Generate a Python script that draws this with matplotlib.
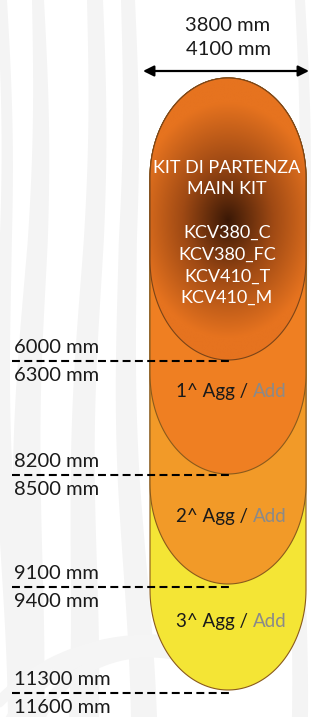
import numpy as np
import matplotlib.pyplot as plt
from matplotlib.patches import Polygon, FancyArrowPatch
from matplotlib.colors import to_rgb

# Dati del kit
WIDTH_LABELS = ['3800 mm', '4100 mm']
MAIN_KIT_LINES = ['KIT DI PARTENZA', 'MAIN KIT', '', 'KCV380_C', 'KCV380_FC', 'KCV410_T', 'KCV410_M']
LEVEL_UPPER = ['6000 mm', '8200 mm', '9100 mm', '11300 mm']
LEVEL_LOWER = ['6300 mm', '8500 mm', '9400 mm', '11600 mm']
ADD_NUMBERS = ['1^', '2^', '3^']
ADD_COLORS = ['#EF7F22', '#F29A28', '#F4E535']

# Layout (pixel)
W, H = 311, 717
X0, X1 = 150, 306
TOP = 78
ARC_B = 100
BOTTOMS = [360, 474, 584, 690]        # main kit, 1^, 2^, 3^
LINE_Y = [361, 475, 587, 693]
ADD_TEXT_Y = [397, 522, 627]

plt.rcParams['font.family'] = ['Lato', 'DejaVu Sans']

fig = plt.figure(figsize=(W / 100, H / 100), dpi=100)
ax = fig.add_axes([0, 0, 1, 1])
ax.set_xlim(0, W)
ax.set_ylim(H, 0)
ax.axis('off')


def stadium(x0, x1, top, bottom, b, n=80):
    cx = (x0 + x1) / 2
    a = (x1 - x0) / 2
    t = np.linspace(np.pi, 0, n)
    top_pts = np.column_stack([cx + a * np.cos(t), top + b - b * np.sin(t)])
    t2 = np.linspace(0, np.pi, n)
    bot_pts = np.column_stack([cx + a * np.cos(t2), bottom - b + b * np.sin(t2)])
    return np.vstack([top_pts, bot_pts])


# Sfondo: strisce grigie molto chiare
yy = np.linspace(0, H, 60)
bands = [
    ([2, 4, 8, 14], [10, 12, 16, 20]),
    ([38, 36, 30, 22], [12, 20, 28, 36]),
    ([95, 92, 86, 80], [16, 20, 24, 30]),
    ([128, 126, 132, 140], [14, 18, 22, 26]),
    ([300, 302, 298, 296], [10, 12, 14, 16]),
]
ky = [0, 240, 480, 717]
for xc, wd in bands:
    c = np.interp(yy, ky, xc) + 4 * np.sin(yy / 90)
    w = np.interp(yy, ky, wd)
    pts = np.vstack([np.column_stack([c - w / 2, yy]),
                     np.column_stack([c + w / 2, yy])[::-1]])
    ax.add_patch(Polygon(pts, closed=True, facecolor='#f4f4f4', edgecolor='none', zorder=0))

# Archi in basso a sinistra
for r, cy in [(120, 760), (160, 790), (200, 820)]:
    t = np.linspace(np.pi * 1.05, np.pi * 1.6, 60)
    ax.plot(150 + r * np.cos(t), cy + r * np.sin(t) * 0.9, color='#f5f5f5', lw=8,
            solid_capstyle='round', zorder=0)

# Segmenti aggiuntivi (dal basso verso l'alto)
for i in range(len(ADD_COLORS) - 1, -1, -1):
    pts = stadium(X0, X1, TOP, BOTTOMS[i + 1], ARC_B)
    ax.add_patch(Polygon(pts, closed=True, facecolor=ADD_COLORS[i],
                         edgecolor='#8a5a1c', lw=0.8, zorder=2))

# Kit di partenza con sfumatura radiale
main_pts = stadium(X0, X1, TOP, BOTTOMS[0], ARC_B)
main_patch = Polygon(main_pts, closed=True, facecolor='none', edgecolor='#7a4418', lw=0.8, zorder=4)
ax.add_patch(main_patch)
gx = np.linspace(X0, X1, 200)
gy = np.linspace(TOP, BOTTOMS[0], 360)
GX, GY = np.meshgrid(gx, gy)
r = np.sqrt(((GX - 228) / 92) ** 2 + ((GY - 220) / 118) ** 2)
t = np.clip(r, 0, 1)
dark = np.array(to_rgb('#3a1806'))
mid = np.array(to_rgb('#a04a14'))
edge = np.array(to_rgb('#E6731F'))
t3 = t[..., None]
img = np.where(t3 < 0.5, dark + (mid - dark) * (t3 / 0.5), mid + (edge - mid) * ((t3 - 0.5) / 0.5))
im = ax.imshow(img, extent=(X0, X1, BOTTOMS[0], TOP), origin='upper', zorder=3,
               interpolation='bilinear', aspect='auto')
im.set_clip_path(main_patch)

# Testo kit di partenza
cx = (X0 + X1) / 2
ty = [173, 194, 216, 238, 260, 282, 303]
for line, y in zip(MAIN_KIT_LINES, ty):
    ax.text(cx - 1, y, line, color='white', fontsize=13, ha='center', va='baseline', zorder=5)

# Testo aggiunte
for num, y in zip(ADD_NUMBERS, ADD_TEXT_Y):
    ax.text(cx + 20, y, f'{num} Agg /', color='#1a1a1a', fontsize=13.5, ha='right', va='baseline', zorder=5)
    ax.text(cx + 25, y, 'Add', color='#8a8a8a', fontsize=13.5, ha='left', va='baseline', zorder=5)

# Quote laterali e linee tratteggiate
for up, lo, y in zip(LEVEL_UPPER, LEVEL_LOWER, LINE_Y):
    ax.plot([12, 230], [y, y], color='black', lw=1.5, ls=(0, (3.8, 2.1)), zorder=6)
    ax.text(14, y - 8, up, color='#1a1a1a', fontsize=14.5, ha='left', va='baseline', zorder=6)
    ax.text(14, y + 20, lo, color='#1a1a1a', fontsize=14.5, ha='left', va='baseline', zorder=6)

# Larghezza
ax.text(cx, 31, WIDTH_LABELS[0], color='#1a1a1a', fontsize=14.5, ha='center', va='baseline')
ax.text(cx, 55, WIDTH_LABELS[1], color='#1a1a1a', fontsize=14.5, ha='center', va='baseline')
ax.add_patch(FancyArrowPatch((143, 71), (309, 71), arrowstyle='<|-|>', mutation_scale=16,
                             color='black', lw=1.6, shrinkA=0, shrinkB=0, zorder=6))

plt.savefig('out.png', dpi=100)
plt.close()
